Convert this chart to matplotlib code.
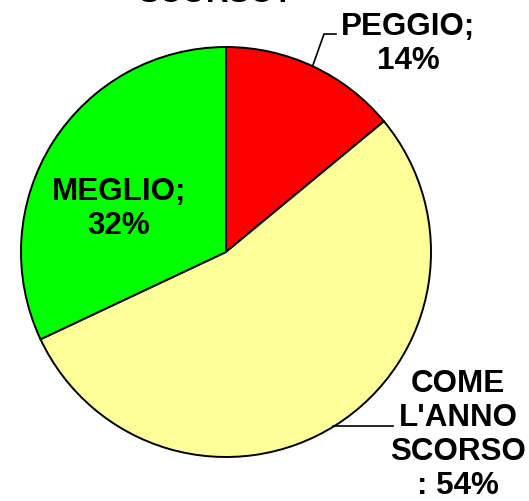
import matplotlib.pyplot as plt

labels = ["PEGGIO;\n14%", "COME\nL'ANNO\nSCORSO\n: 54%", "MEGLIO;\n32%"]
values = [14, 54, 32]
colors = ["#FF0000", "#FFFF99", "#00FF00"]

W, H = 529, 501
fig = plt.figure(figsize=(W / 100, H / 100), dpi=100)
ax = fig.add_axes([0, 0, 1, 1])

# pie drawn in pixel coords (y flipped so clockwise order comes out right)
ax.pie(values, colors=colors, startangle=-90, counterclock=True,
       center=(226, 252), radius=205,
       wedgeprops=dict(edgecolor="black", linewidth=1.4), frame=True)
ax.set_xlim(0, W)
ax.set_ylim(H, 0)
ax.set_aspect("equal")
ax.axis("off")

font = dict(family="Liberation Sans", fontsize=22.6, fontweight="bold",
            ha="center", va="center", linespacing=1.16)

# title is cut off at the top in the original too
ax.text(216, -6, "SCORSO?", **font)
ax.text(408, 44, labels[0], **font)
ax.text(119, 209, labels[2], **font)
ax.text(458, 435, labels[1], **font)

ax.plot([313, 324, 336], [65, 34, 34], color="black", lw=1.2)
ax.plot([333, 393], [426, 426], color="black", lw=1.2)

fig.savefig("out.png", dpi=100)
